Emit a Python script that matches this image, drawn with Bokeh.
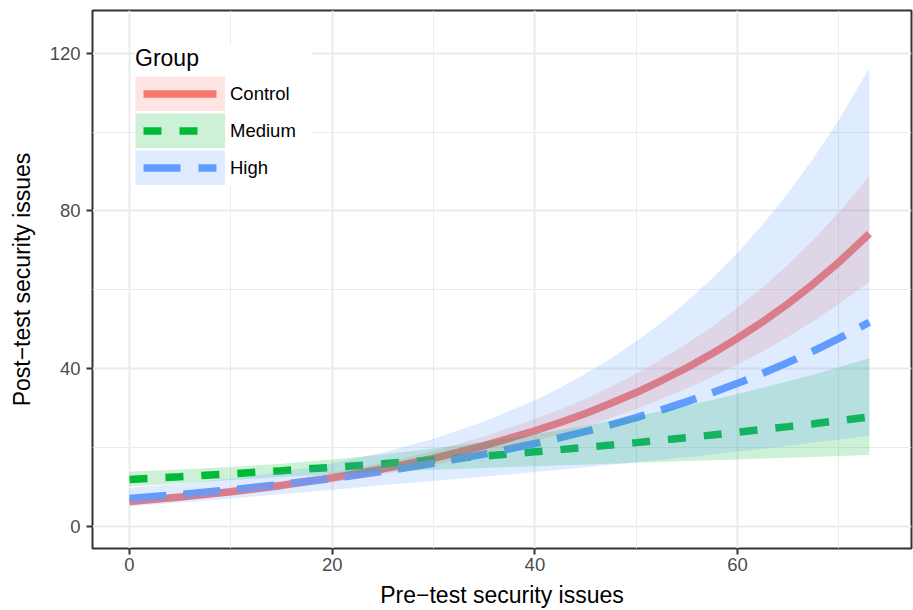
from bokeh.plotting import figure
from bokeh.models import Legend, LegendItem, FixedTicker, ColumnDataSource, Range1d
from bokeh.embed import file_html
from bokeh.resources import INLINE

# ---- data ----
pre_test = [0, 5, 10, 15, 20, 25, 30, 35, 40, 42.5, 45, 47.5, 50, 52.5, 55, 57.5, 60, 62.5, 65, 67.5, 70, 73]

control_fit = [6.2, 7.35, 8.71, 10.32, 12.23, 14.5, 17.2, 20.4, 24.2, 26.3, 28.6, 31.17, 33.9, 36.95, 40.2, 43.8, 47.7, 51.91, 56.5, 61.53, 67.0, 74.2]
control_lo = [5.53, 6.59, 7.85, 9.33, 11.07, 13.11, 15.5, 18.3, 21.57, 23.36, 25.31, 27.46, 29.74, 32.26, 34.93, 37.87, 41.02, 44.40, 48.06, 52.05, 56.35, 61.98]
control_hi = [6.95, 8.19, 9.66, 11.42, 13.52, 16.04, 19.08, 22.74, 27.15, 29.61, 32.32, 35.38, 38.65, 42.32, 46.27, 50.66, 55.47, 60.69, 66.42, 72.73, 79.66, 88.83]

medium_fit = [11.8, 12.51, 13.26, 14.06, 14.91, 15.81, 16.76, 17.77, 18.84, 19.40, 19.98, 20.57, 21.18, 21.81, 22.46, 23.12, 23.81, 24.52, 25.24, 25.99, 26.76, 27.72]
medium_lo = [10.05, 10.89, 11.71, 12.48, 13.16, 13.76, 14.28, 14.76, 15.2, 15.42, 15.64, 15.85, 16.07, 16.28, 16.49, 16.70, 16.91, 17.13, 17.33, 17.55, 17.76, 18.03]
medium_hi = [13.85, 14.37, 15.02, 15.84, 16.89, 18.17, 19.67, 21.40, 23.34, 24.40, 25.52, 26.69, 27.92, 29.22, 30.59, 32.01, 33.52, 35.11, 36.75, 38.49, 40.31, 42.62]

high_fit = [7.0, 8.03, 9.21, 10.56, 12.11, 13.89, 15.93, 18.26, 20.95, 22.43, 24.02, 25.72, 27.55, 29.50, 31.59, 33.83, 36.23, 38.80, 41.55, 44.50, 47.65, 51.74]
high_lo = [5.03, 5.98, 7.01, 8.11, 9.22, 10.34, 11.45, 12.57, 13.73, 14.32, 14.92, 15.54, 16.18, 16.83, 17.50, 18.19, 18.91, 19.65, 20.41, 21.20, 22.0, 23.02]
high_hi = [9.74, 10.79, 12.09, 13.75, 15.90, 18.66, 22.16, 26.53, 31.97, 35.14, 38.67, 42.57, 46.92, 51.71, 57.02, 62.90, 69.41, 76.62, 84.60, 93.44, 103.19, 116.29]

groups = ["Control", "Medium", "High"]
x_ticks = [0, 20, 40, 60]
x_minor = [10, 30, 50, 70]
y_ticks = [0, 40, 80, 120]
y_minor = [20, 60, 100]

colors = {"Control": "#F8766D", "Medium": "#00BA38", "High": "#619CFF"}
dashes = {"Control": "solid", "Medium": "18 18", "High": "37 17"}
legend_dashes = {"Control": "73 17", "Medium": "18 18 18 36", "High": "37 18 18 17"}

series = {
    "Control": (control_fit, control_lo, control_hi),
    "Medium": (medium_fit, medium_lo, medium_hi),
    "High": (high_fit, high_lo, high_hi),
}

FONT = "Liberation Sans"

p = figure(width=913, height=610, x_range=(-3.65, 77.16), y_range=(-5.7, 130.9),
           output_backend="svg", toolbar_location=None, title=None,
           min_border_left=92, min_border_right=2, min_border_top=10, min_border_bottom=61)

# a y range far away from the data: renderers on it stay out of the frame and only feed the legend keys
p.extra_y_ranges = {"legend_only": Range1d(start=10000, end=10001)}

p.background_fill_color = "white"
p.border_fill_color = "white"
p.outline_line_color = "#333333"
p.outline_line_width = 2

sources = {}
for g in groups:
    fit, lo, hi = series[g]
    sources[g] = ColumnDataSource(dict(x=pre_test, fit=fit, lo=lo, hi=hi))

# lines first (ribbons are drawn over them, as in the reference)
for g in groups:
    p.line("x", "fit", source=sources[g], line_color=colors[g], line_width=7.5,
           line_dash=dashes[g], line_cap="butt")

for g in groups:
    p.varea(x="x", y1="lo", y2="hi", source=sources[g],
            fill_color=colors[g], fill_alpha=0.2)

# legend keys
items = []
for g in groups:
    key_fill = p.line("x", "fit", source=sources[g], y_range_name="legend_only",
                      line_color=colors[g], line_alpha=0.2,
                      line_width=35, line_cap="butt")
    key_line = p.line("x", "fit", source=sources[g], y_range_name="legend_only",
                      line_color=colors[g], line_width=7.5,
                      line_dash=legend_dashes[g], line_dash_offset=82, line_cap="butt")
    items.append(LegendItem(label=g, renderers=[key_fill, key_line]))

legend = Legend(items=items, location=(43, 363), title="Group",
                title_text_font=FONT, title_text_font_size="23px",
                title_text_font_style="normal", title_text_color="black",
                title_standoff=4,
                label_text_font=FONT, label_text_font_size="18.5px",
                label_text_color="black",
                glyph_width=90, glyph_height=35, label_height=35, label_width=82,
                spacing=2, padding=12, margin=0, label_standoff=5,
                background_fill_color="white", background_fill_alpha=1,
                border_line_color=None)
p.add_layout(legend)

# axes & grid
p.xaxis.ticker = FixedTicker(ticks=x_ticks, minor_ticks=x_minor)
p.yaxis.ticker = FixedTicker(ticks=y_ticks, minor_ticks=y_minor)

for ax in (p.xaxis, p.yaxis):
    ax.axis_line_color = None
    ax.major_tick_line_color = "#333333"
    ax.major_tick_line_width = 2
    ax.major_tick_out = 6
    ax.major_tick_in = 0
    ax.minor_tick_line_color = None
    ax.major_label_text_font = FONT
    ax.major_label_text_font_size = "18.5px"
    ax.major_label_text_color = "#4D4D4D"
    ax.axis_label_text_font = FONT
    ax.axis_label_text_font_size = "23px"
    ax.axis_label_text_font_style = "normal"
    ax.axis_label_text_color = "black"

p.xaxis.axis_label = "Pre\u2212test security issues"
p.yaxis.axis_label = "Post\u2212test security issues"
p.xaxis.major_label_standoff = 3
p.xaxis.axis_label_standoff = 8
p.yaxis.major_label_standoff = 6
p.yaxis.axis_label_standoff = 12

for gr in (p.xgrid, p.ygrid):
    gr.grid_line_color = "#EBEBEB"
    gr.grid_line_width = 2
    gr.minor_grid_line_color = "#EBEBEB"
    gr.minor_grid_line_width = 1

p.xgrid.ticker = p.xaxis.ticker
p.ygrid.ticker = p.yaxis.ticker

open("out.html", "w").write(file_html(p, INLINE))
